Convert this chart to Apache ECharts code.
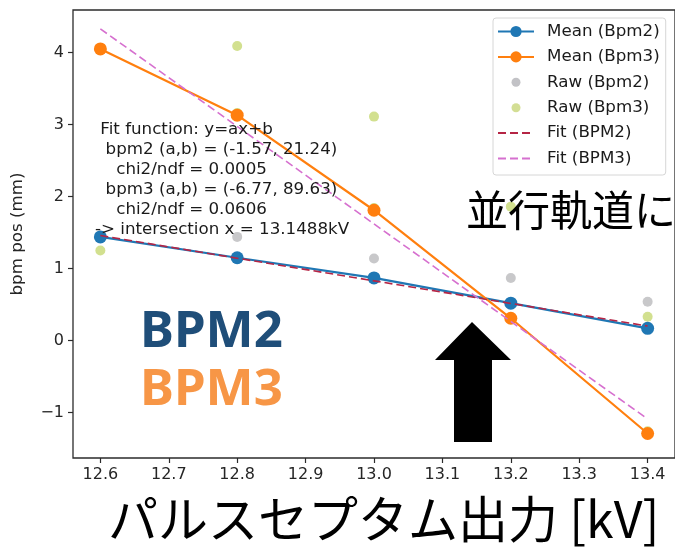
<!DOCTYPE html>
<html>
<head>
<meta charset="utf-8">
<script src="https://cdn.jsdelivr.net/npm/echarts@6/dist/echarts.min.js"></script>
<style>
  html, body { margin: 0; padding: 0; background: #fff; }
  #chart { width: 675px; height: 548px; }
</style>
</head>
<body>
<div id="chart"></div>
<script>
// Septum output voltage settings (kV)
const voltages = [12.6, 12.8, 13.0, 13.2, 13.4];

// Mean beam position at each BPM (mm)
const meanBpm2 = [1.44, 1.15, 0.87, 0.52, 0.17];
const meanBpm3 = [4.05, 3.13, 1.81, 0.31, -1.29];

// Individual measurements [kV, mm]
const rawBpm2 = [
  [12.6, 1.43], [12.8, 1.44], [12.8, 1.15], [13.0, 1.14], [13.0, 0.87],
  [13.2, 0.87], [13.2, 0.52], [13.4, 0.54], [13.4, 0.17]
];
const rawBpm3 = [
  [12.6, 4.05], [12.6, 1.25], [12.8, 4.09], [12.8, 3.16], [13.0, 3.11],
  [13.0, 1.84], [13.2, 1.86], [13.2, 0.30], [13.4, 0.33], [13.4, -1.26]
];

// Linear fit parameters y = a*x + b
const fitBpm2 = { a: -1.57, b: 21.24 };
const fitBpm3 = { a: -6.77, b: 89.63 };
const fitRange = [12.6, 13.4];

// Axis ticks
const xTicks = [12.6, 12.7, 12.8, 12.9, 13.0, 13.1, 13.2, 13.3, 13.4];
const yTicks = [-1, 0, 1, 2, 3, 4];

const fitText = [
  ' Fit function: y=ax+b',
  '  bpm2 (a,b) = (-1.57, 21.24)',
  '    chi2/ndf = 0.0005',
  '  bpm3 (a,b) = (-6.77, 89.63)',
  '    chi2/ndf = 0.0606',
  '-> intersection x = 13.1488kV'
].join('\n');

const fitLine = (p) => fitRange.map(x => [x, p.a * x + p.b]);
const pairs = (ys) => voltages.map((x, i) => [x, ys[i]]);

const RAW2_COLOR = 'rgba(130,130,135,0.55)';
const RAW3_COLOR = 'rgba(168,195,40,0.65)';

// Small dot legend icon, padded inside the full legend handle box
const dotIcon = (color) => 'image://data:image/svg+xml;utf8,' + encodeURIComponent(
  '<svg xmlns="http://www.w3.org/2000/svg" width="36" height="14" viewBox="0 0 36 14">' +
  '<circle cx="18" cy="7" r="4.5" fill="' + color + '"/></svg>'
);

const mplFont = 'DejaVu Sans';
const axisColor = '#2b2b2b';

const chart = echarts.init(document.getElementById('chart'), null, { renderer: 'canvas' });

chart.setOption({
  animation: false,
  backgroundColor: '#ffffff',
  grid: {
    left: 73, top: 10, right: -2, bottom: 90,
    show: true, borderColor: axisColor, borderWidth: 1.3, backgroundColor: 'transparent'
  },
  xAxis: {
    type: 'value', min: 12.56, max: 13.44,
    axisLine: { show: false, onZero: false },
    splitLine: { show: false },
    axisTick: { show: true, customValues: xTicks, length: 5, lineStyle: { color: axisColor, width: 1.2 } },
    axisLabel: {
      customValues: xTicks, margin: 9,
      fontFamily: mplFont, fontSize: 16, color: '#262626',
      formatter: v => v.toFixed(1)
    }
  },
  yAxis: {
    type: 'value', min: -1.63, max: 4.59,
    name: 'bpm pos (mm)', nameLocation: 'middle', nameGap: 47, nameRotate: 90,
    nameTextStyle: { fontFamily: mplFont, fontSize: 16.7, color: '#262626' },
    axisLine: { show: false, onZero: false },
    splitLine: { show: false },
    axisTick: { show: true, customValues: yTicks, length: 5, lineStyle: { color: axisColor, width: 1.2 } },
    axisLabel: {
      customValues: yTicks, margin: 9,
      fontFamily: mplFont, fontSize: 16, color: '#262626',
      formatter: v => (v < 0 ? '\u2212' + Math.abs(v) : String(v))
    }
  },
  legend: {
    orient: 'vertical', left: 493, top: 18,
    padding: [5, 6, 8, 4], itemGap: 8.4, itemWidth: 36, itemHeight: 14,
    backgroundColor: 'rgba(255,255,255,0.85)', borderColor: '#d6d6d6', borderWidth: 1, borderRadius: 3,
    textStyle: { fontFamily: mplFont, fontSize: 16.7, lineHeight: 14, color: '#1a1a1a', padding: [0, 0, 0, 8] },
    data: [
      'Mean (Bpm2)', 'Mean (Bpm3)',
      { name: 'Raw (Bpm2)', icon: dotIcon('#b4b4b8') },
      { name: 'Raw (Bpm3)', icon: dotIcon('#c9d67a') },
      { name: 'Fit (BPM2)', itemStyle: { opacity: 0 } },
      { name: 'Fit (BPM3)', itemStyle: { opacity: 0 } }
    ]
  },
  series: [
    {
      name: 'Raw (Bpm2)', type: 'scatter', data: rawBpm2, z: 1,
      symbol: 'circle', symbolSize: 10,
      itemStyle: { color: RAW2_COLOR }
    },
    {
      name: 'Raw (Bpm3)', type: 'scatter', data: rawBpm3, z: 1,
      symbol: 'circle', symbolSize: 10,
      itemStyle: { color: RAW3_COLOR }
    },
    {
      name: 'Mean (Bpm2)', type: 'line', data: pairs(meanBpm2), z: 2,
      symbol: 'circle', symbolSize: 13, showSymbol: true,
      lineStyle: { color: '#1f77b4', width: 2.2 },
      itemStyle: { color: '#1f77b4' }
    },
    {
      name: 'Mean (Bpm3)', type: 'line', data: pairs(meanBpm3), z: 2,
      symbol: 'circle', symbolSize: 13, showSymbol: true,
      lineStyle: { color: '#ff7f0e', width: 2.2 },
      itemStyle: { color: '#ff7f0e' }
    },
    {
      name: 'Fit (BPM2)', type: 'line', data: fitLine(fitBpm2), z: 3,
      symbol: 'none',
      lineStyle: { color: '#b52545', width: 1.6, type: [8, 4] },
      itemStyle: { color: '#b52545' }
    },
    {
      name: 'Fit (BPM3)', type: 'line', data: fitLine(fitBpm3), z: 3,
      symbol: 'none',
      lineStyle: { color: '#d670cf', width: 1.6, type: [8, 4] },
      itemStyle: { color: '#d670cf' }
    }
  ],
  graphic: [
    {
      type: 'text', left: 95, top: 120, z: 50,
      style: { text: fitText, fontFamily: mplFont, fontSize: 16.7, lineHeight: 20, fill: '#1a1a1a' }
    },
    {
      type: 'text', left: 140, top: 307, z: 60,
      style: { text: 'BPM2', fontFamily: 'Noto Sans', fontWeight: 'bold', fontSize: 51, fill: '#1f4e79' }
    },
    {
      type: 'text', left: 140, top: 365, z: 60,
      style: { text: 'BPM3', fontFamily: 'Noto Sans', fontWeight: 'bold', fontSize: 51, fill: '#f79646' }
    },
    {
      type: 'text', left: 466, top: 189, z: 60,
      style: { text: '並行軌道に', fontFamily: 'Noto Sans CJK JP', fontSize: 42, fill: '#000000' }
    },
    {
      type: 'text', left: 108, top: 494, z: 60,
      style: { text: 'パルスセプタム出力 [kV]', fontFamily: 'Noto Sans CJK JP', fontSize: 50, fill: '#000000' }
    },
    {
      type: 'polygon', z: 60,
      shape: { points: [[472, 322], [511, 360], [492, 360], [492, 442], [454, 442], [454, 360], [435, 360]] },
      style: { fill: '#000000' }
    }
  ]
});
</script>
</body>
</html>
